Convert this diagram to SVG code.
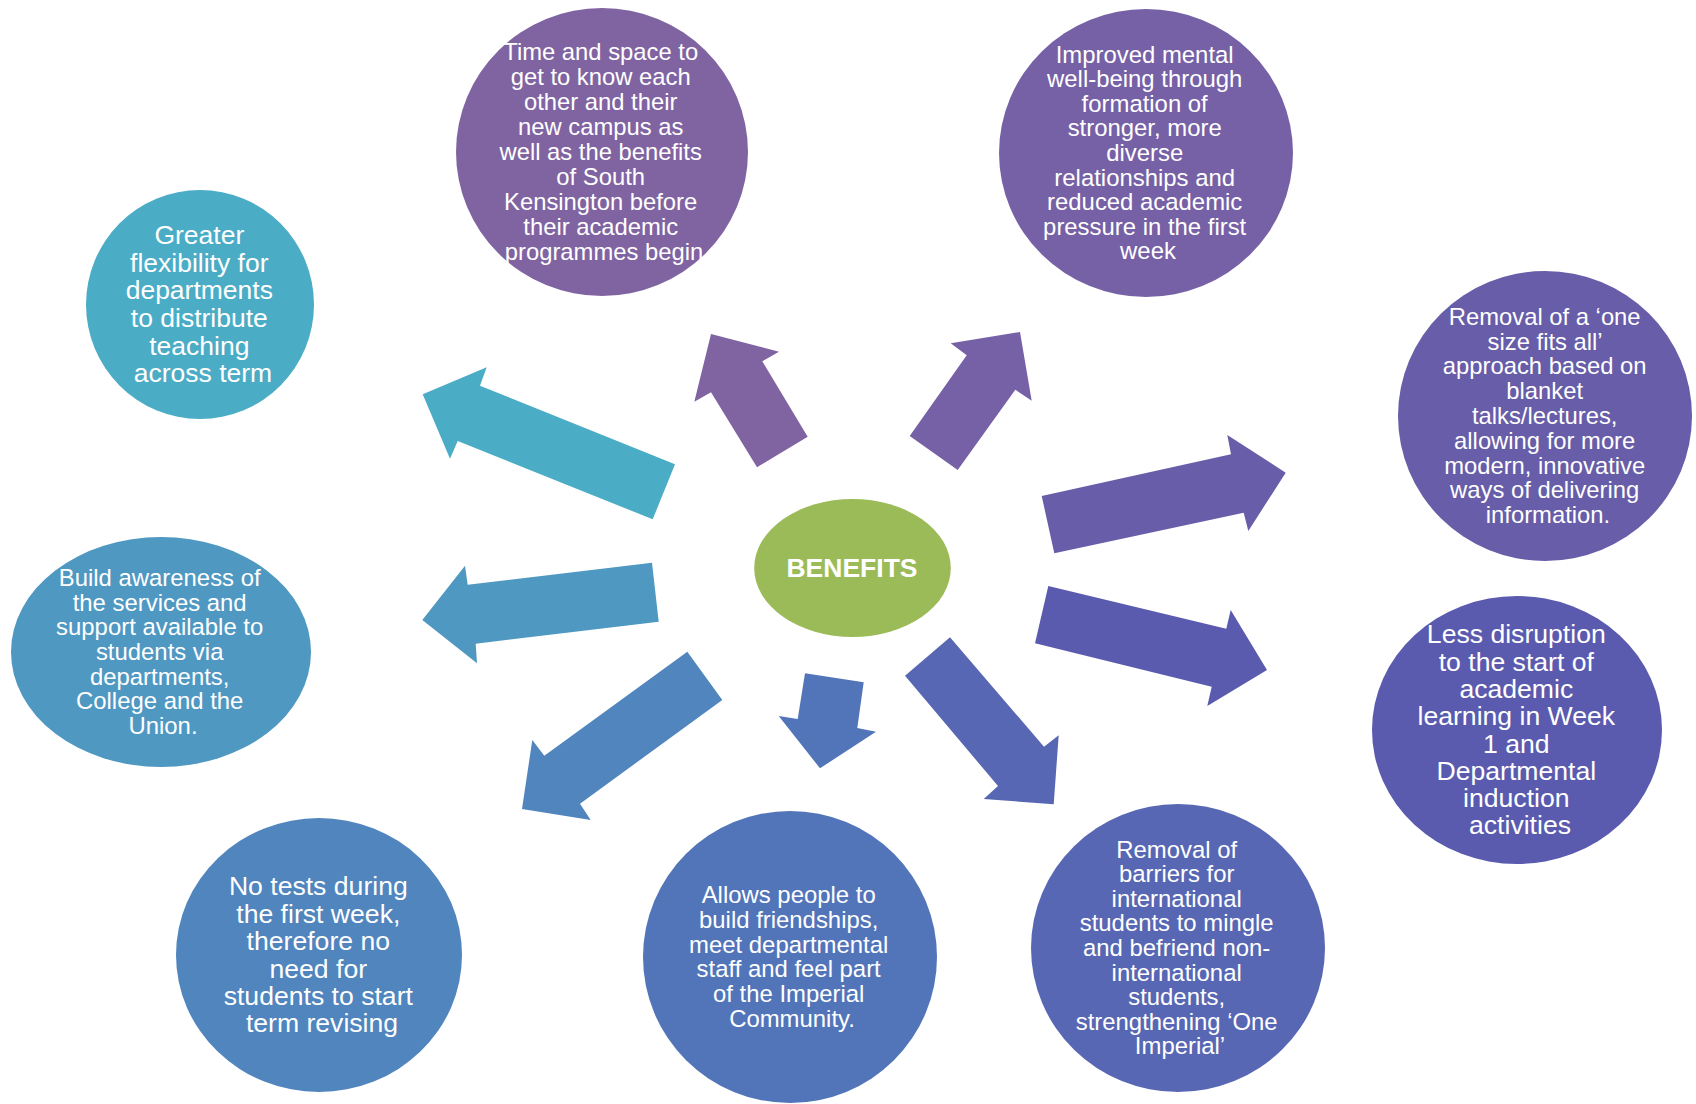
<svg xmlns="http://www.w3.org/2000/svg" width="1696" height="1104" viewBox="0 0 1696 1104">
<style>
.t{font-family:"Liberation Sans",Arial,sans-serif;fill:#fff;text-anchor:middle}
.s{font-size:23.9px}
.l{font-size:26.6px}
.c{font-family:"Liberation Sans",Arial,sans-serif;fill:#fff;text-anchor:middle;font-weight:bold;font-size:26.5px}
</style>
<rect width="1696" height="1104" fill="#fff"/>
<g id="connectors">
<polygon fill="#4BACC6" points="422.7,394.3 486.7,367.3 480,385.7 675,464.3 652.7,519.3 457.7,441 450,458.7"/>
<polygon fill="#8064A2" points="711,334 779,351.7 762.3,361.3 807.7,436.7 757,467.3 711,392.3 694.3,401.7"/>
<polygon fill="#7661A6" points="1020,332 1031.7,400.7 1015.3,389.7 957.7,470 909.7,436 966.7,355.3 950.7,343.3"/>
<polygon fill="#675DA8" points="1041.7,496 1231,454.3 1227.3,435 1285.7,472.7 1248.3,531 1243.7,512.7 1054.3,553.3"/>
<polygon fill="#4F98C2" points="422.3,620 465,565.7 467.7,584.7 652,562.7 658.7,621.7 475.7,643.7 477,663.3"/>
<polygon fill="#5085BE" points="687.3,651.7 722.3,700 580,803.7 590.7,820 522,809 532.3,740 544.3,755.7"/>
<polygon fill="#5275BA" points="805,673.3 863.7,682.3 857.3,728 876,731.7 820,768.3 778.7,716 797.7,719"/>
<polygon fill="#5867B3" points="950,637.3 905,675.7 998,786 983.7,799 1053.7,804.3 1058.7,735.3 1044,746.7"/>
<polygon fill="#5A5BAE" points="1048.3,586 1226.3,628.7 1230.7,610 1267,670 1207.3,706 1211.7,686.7 1035,643.3"/>
</g>
<g id="node-benefits">
<ellipse cx="852.5" cy="568" rx="98.3" ry="69" fill="#9BBB59"/>
<text class="c" x="852" y="577">BENEFITS</text>
</g>
<g id="node-time">
<ellipse cx="602" cy="152" rx="146" ry="144" fill="#8064A2"/>
<text class="t" style="font-size:23.8px">
<tspan x="604" y="60.3">Time and space to</tspan>
<tspan x="604" y="85.2">get to know each</tspan>
<tspan x="604" y="110.1">other and their</tspan>
<tspan x="604" y="135">new campus as</tspan>
<tspan x="604" y="159.9">well as the benefits</tspan>
<tspan x="604" y="184.8">of South</tspan>
<tspan x="604" y="209.7">Kensington before</tspan>
<tspan x="604" y="234.6">their academic</tspan>
<tspan x="604" y="259.5">programmes begin</tspan>
</text>
</g>
<g id="node-improved">
<ellipse cx="1146" cy="153" rx="147" ry="144" fill="#7661A6"/>
<text class="t s">
<tspan x="1148" y="62.7">Improved mental</tspan>
<tspan x="1148" y="87.3">well-being through</tspan>
<tspan x="1148" y="111.8">formation of</tspan>
<tspan x="1148" y="136.4">stronger, more</tspan>
<tspan x="1148" y="160.9">diverse</tspan>
<tspan x="1148" y="185.5">relationships and</tspan>
<tspan x="1148" y="210">reduced academic</tspan>
<tspan x="1148" y="234.6">pressure in the first</tspan>
<tspan x="1148" y="259.1">week</tspan>
</text>
</g>
<g id="node-greater">
<ellipse cx="200" cy="304.5" rx="114" ry="114.5" fill="#4BACC6"/>
<text class="t" style="font-size:26.5px">
<tspan x="203" y="244.2">Greater</tspan>
<tspan x="203" y="271.8">flexibility for</tspan>
<tspan x="203" y="299.4">departments</tspan>
<tspan x="203" y="327">to distribute</tspan>
<tspan x="203" y="354.6">teaching</tspan>
<tspan x="203" y="382.2">across term</tspan>
</text>
</g>
<g id="node-onesize">
<ellipse cx="1545" cy="416" rx="147" ry="145" fill="#675DA8"/>
<text class="t" style="font-size:23.8px">
<tspan x="1548" y="324.7">Removal of a ‘one</tspan>
<tspan x="1548" y="349.5">size fits all’</tspan>
<tspan x="1548" y="374.3">approach based on</tspan>
<tspan x="1548" y="399.1">blanket</tspan>
<tspan x="1548" y="423.9">talks/lectures,</tspan>
<tspan x="1548" y="448.7">allowing for more</tspan>
<tspan x="1548" y="473.5">modern, innovative</tspan>
<tspan x="1548" y="498.3">ways of delivering</tspan>
<tspan x="1548" y="523.1">information.</tspan>
</text>
</g>
<g id="node-build">
<ellipse cx="161" cy="652" rx="150" ry="115" fill="#4F98C2"/>
<text class="t s">
<tspan x="163" y="586.1">Build awareness of</tspan>
<tspan x="163" y="610.7">the services and</tspan>
<tspan x="163" y="635.3">support available to</tspan>
<tspan x="163" y="659.9">students via</tspan>
<tspan x="163" y="684.5">departments,</tspan>
<tspan x="163" y="709.1">College and the</tspan>
<tspan x="163" y="733.7">Union.</tspan>
</text>
</g>
<g id="node-notests">
<ellipse cx="319" cy="955" rx="143" ry="137" fill="#5085BE"/>
<text class="t l">
<tspan x="322" y="895.3">No tests during</tspan>
<tspan x="322" y="922.7">the first week,</tspan>
<tspan x="322" y="950.1">therefore no</tspan>
<tspan x="322" y="977.5">need for</tspan>
<tspan x="322" y="1004.9">students to start</tspan>
<tspan x="322" y="1032.3">term revising</tspan>
</text>
</g>
<g id="node-allows">
<ellipse cx="790" cy="957" rx="147" ry="146" fill="#5275BA"/>
<text class="t s">
<tspan x="792" y="903.2">Allows people to</tspan>
<tspan x="792" y="927.9">build friendships,</tspan>
<tspan x="792" y="952.6">meet departmental</tspan>
<tspan x="792" y="977.3">staff and feel part</tspan>
<tspan x="792" y="1002">of the Imperial</tspan>
<tspan x="792" y="1026.7">Community.</tspan>
</text>
</g>
<g id="node-barriers">
<ellipse cx="1178" cy="948" rx="147" ry="144" fill="#5867B3"/>
<text class="t s">
<tspan x="1180" y="857.7">Removal of</tspan>
<tspan x="1180" y="882.3">barriers for</tspan>
<tspan x="1180" y="906.8">international</tspan>
<tspan x="1180" y="931.4">students to mingle</tspan>
<tspan x="1180" y="955.9">and befriend non-</tspan>
<tspan x="1180" y="980.5">international</tspan>
<tspan x="1180" y="1005">students,</tspan>
<tspan x="1180" y="1029.6">strengthening ‘One</tspan>
<tspan x="1180" y="1054.1">Imperial’</tspan>
</text>
</g>
<g id="node-less">
<ellipse cx="1517" cy="730" rx="145" ry="134" fill="#5A5BAE"/>
<text class="t l">
<tspan x="1520" y="643.3">Less disruption</tspan>
<tspan x="1520" y="670.6">to the start of</tspan>
<tspan x="1520" y="697.9">academic</tspan>
<tspan x="1520" y="725.2">learning in Week</tspan>
<tspan x="1520" y="752.5">1 and</tspan>
<tspan x="1520" y="779.8">Departmental</tspan>
<tspan x="1520" y="807.1">induction</tspan>
<tspan x="1520" y="834.4">activities</tspan>
</text>
</g>
</svg>
